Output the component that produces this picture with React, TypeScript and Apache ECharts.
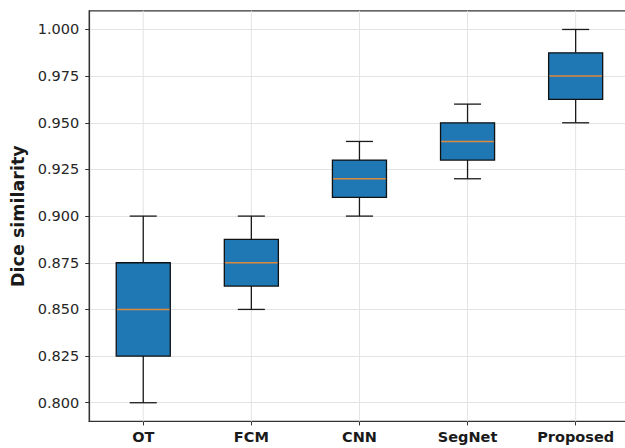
import React, { useEffect, useRef } from "react";
import * as echarts from "echarts";

const categories = ["OT", "FCM", "CNN", "SegNet", "Proposed"];
// [min, Q1, median, Q3, max]
const whiskerMin = [0.8, 0.85, 0.9, 0.92, 0.95];
const q1 = [0.825, 0.8625, 0.91, 0.93, 0.9625];
const median = [0.85, 0.875, 0.92, 0.94, 0.975];
const q3 = [0.875, 0.8875, 0.93, 0.95, 0.9875];
const whiskerMax = [0.9, 0.9, 0.94, 0.96, 1.0];
const yTicks = [0.8, 0.825, 0.85, 0.875, 0.9, 0.925, 0.95, 0.975, 1.0];

export default function App() {
  const ref = useRef<HTMLDivElement>(null);
  useEffect(() => {
    if (!ref.current) return;
    const chart = echarts.init(ref.current, undefined, { renderer: "svg" });
    const data = categories.map((_, i) => [i, whiskerMin[i], q1[i], median[i], q3[i], whiskerMax[i]]);
    const edge = "#1a1a1a";
    chart.setOption({
      animation: false,
      backgroundColor: "#ffffff",
      grid: {
        left: 89.2,
        top: 10.8,
        width: 540.5,
        height: 410.6,
        show: true,
        borderColor: "#333333",
        borderWidth: 1.2,
        backgroundColor: "transparent",
      },
      xAxis: {
        type: "category",
        data: categories,
        boundaryGap: true,
        axisLine: { show: true, lineStyle: { color: "#333333", width: 1.2 } },
        axisTick: { show: true, alignWithLabel: true, length: 4, lineStyle: { color: "#333333" } },
        axisLabel: {
          color: "#1a1a1a",
          fontFamily: "DejaVu Sans",
          fontWeight: "bold",
          fontSize: 14.5,
          margin: 8,
        },
        splitLine: { show: false },
      },
      yAxis: {
        type: "value",
        min: 0.79,
        max: 1.01,
        name: "Dice similarity",
        nameLocation: "middle",
        nameGap: 62,
        nameTextStyle: {
          color: "#1a1a1a",
          fontFamily: "DejaVu Sans",
          fontWeight: "bold",
          fontSize: 17.5,
        },
        axisLine: { show: true, lineStyle: { color: "#333333", width: 1.2 } },
        axisTick: { show: true, length: 4, customValues: yTicks, lineStyle: { color: "#333333" } },
        axisLabel: {
          customValues: yTicks,
          formatter: (v: number) => v.toFixed(3),
          color: "#262626",
          fontFamily: "DejaVu Sans",
          fontSize: 14.5,
          margin: 10,
        },
        splitLine: { show: true, lineStyle: { color: "#e3e3e3", width: 1 } },
      },
      series: [
        {
          type: "custom",
          data,
          encode: { x: 0, y: [1, 2, 3, 4, 5] },
          clip: false,
          renderItem: (params: any, api: any) => {
            const x = api.value(0);
            const band = api.size([1, 0])[0];
            const cs = params.coordSys;
            const c = api.coord([x, api.value(3)]);
            const cx = c[0];
            const yMin = api.coord([x, api.value(1)])[1];
            const yQ1 = api.coord([x, api.value(2)])[1];
            const yMed = c[1];
            const yQ3 = api.coord([x, api.value(4)])[1];
            const yMax = api.coord([x, api.value(5)])[1];
            const boxW = band * 0.5;
            const capW = band * 0.25;
            const lw = 1.3;
            return {
              type: "group",
              children: [
                {
                  type: "line",
                  shape: { x1: cx, y1: cs.y, x2: cx, y2: cs.y + cs.height },
                  style: { stroke: "#e3e3e3", lineWidth: 1 },
                },
                {
                  type: "line",
                  shape: { x1: cx, y1: yQ3, x2: cx, y2: yMax },
                  style: { stroke: edge, lineWidth: lw },
                },
                {
                  type: "line",
                  shape: { x1: cx, y1: yQ1, x2: cx, y2: yMin },
                  style: { stroke: edge, lineWidth: lw },
                },
                {
                  type: "line",
                  shape: { x1: cx - capW / 2, y1: yMax, x2: cx + capW / 2, y2: yMax },
                  style: { stroke: edge, lineWidth: lw },
                },
                {
                  type: "line",
                  shape: { x1: cx - capW / 2, y1: yMin, x2: cx + capW / 2, y2: yMin },
                  style: { stroke: edge, lineWidth: lw },
                },
                {
                  type: "rect",
                  shape: { x: cx - boxW / 2, y: yQ3, width: boxW, height: yQ1 - yQ3 },
                  style: { fill: "#1f77b4", stroke: "#111111", lineWidth: lw },
                },
                {
                  type: "line",
                  shape: { x1: cx - boxW / 2 + 0.7, y1: yMed, x2: cx + boxW / 2 - 0.7, y2: yMed },
                  style: { stroke: "#dd8a3c", lineWidth: 1.5 },
                },
              ],
            };
          },
        },
      ],
    });
    return () => chart.dispose();
  }, []);
  return (
    <div style={{ position: "fixed", left: 0, top: 0, width: 625, height: 448, overflow: "hidden" }}>
      <div ref={ref} style={{ position: "absolute", left: 0, top: 0, width: 640, height: 448 }} />
    </div>
  );
}
